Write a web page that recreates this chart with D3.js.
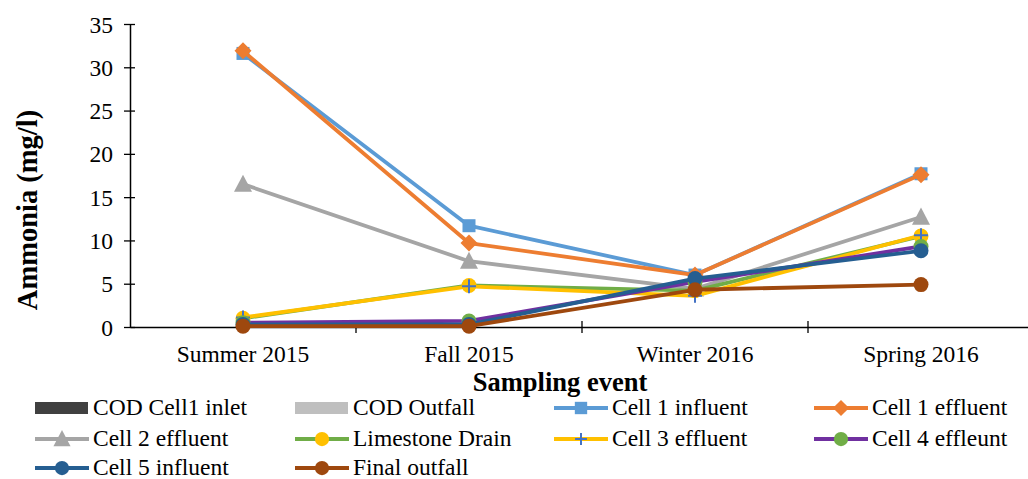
<!DOCTYPE html>
<html>
<head>
<meta charset="utf-8">
<script src="https://cdn.jsdelivr.net/npm/d3@7"></script>
<style>
  html, body { margin: 0; padding: 0; background: #fff; }
  svg { display: block; }
</style>
</head>
<body>
<svg id="chart" width="1028" height="479"></svg>
<script>
// Sampling events (x categories)
const events = ["Summer 2015", "Fall 2015", "Winter 2016", "Spring 2016"];
const yTicks = [0, 5, 10, 15, 20, 25, 30, 35];

// Ammonia (mg/l) per station
const codCell1Inlet = [];
const codOutfall = [];
const cell1Influent = [31.6, 11.7, 6.0, 17.7];
const cell1Effluent = [31.9, 9.7, 6.0, 17.6];
const cell2Effluent = [16.5, 7.6, 4.4, 12.7];
const limestoneDrain = [1.0, 4.8, 4.2, 10.5];
const cell3Effluent = [1.1, 4.7, 3.6, 10.6];
const cell4Effluent = [0.5, 0.7, 5.2, 9.3];
const cell5Influent = [0.3, 0.3, 5.6, 8.8];
const finalOutfall = [0.1, 0.1, 4.3, 4.9];

const series = [
  { name: "COD Cell1 inlet", kind: "bar", color: "#404040", values: codCell1Inlet },
  { name: "COD Outfall", kind: "bar", color: "#BFBFBF", values: codOutfall },
  { name: "Cell 1 influent", kind: "line", line: "#5B9BD5", marker: "square", fill: "#5B9BD5", values: cell1Influent },
  { name: "Cell 1 effluent", kind: "line", line: "#ED7D31", marker: "diamond", fill: "#ED7D31", values: cell1Effluent },
  { name: "Cell 2 effluent", kind: "line", line: "#A5A5A5", marker: "triangle", fill: "#A5A5A5", values: cell2Effluent },
  { name: "Limestone Drain", kind: "line", line: "#70AD47", marker: "circle", fill: "#FFC000", values: limestoneDrain },
  { name: "Cell 3 effluent", kind: "line", line: "#FFC000", marker: "plus", fill: "#4472C4", values: cell3Effluent },
  { name: "Cell 4 effleunt", kind: "line", line: "#7030A0", marker: "circle", fill: "#70AD47", values: cell4Effluent },
  { name: "Cell 5 influent", kind: "line", line: "#255E91", marker: "circle", fill: "#255E91", values: cell5Influent },
  { name: "Final outfall", kind: "line", line: "#9E480E", marker: "circle", fill: "#9E480E", values: finalOutfall }
];

const FONT = "'Liberation Serif', 'Times New Roman', serif";
const svg = d3.select("#chart");
const plot = { left: 130, right: 1034, top: 24, bottom: 327 };

const x = d3.scaleBand().domain(events).range([plot.left, plot.right]).paddingInner(0).paddingOuter(0);
const y = d3.scaleLinear().domain([0, 35]).range([plot.bottom, plot.top]);
const cx = d => x(d) + x.bandwidth() / 2;

// y axis with crossing tick marks
const yAxis = svg.append("g").attr("transform", `translate(${plot.left},0)`)
  .call(d3.axisLeft(y).tickValues(yTicks).tickSize(6).tickSizeOuter(0).tickPadding(8));
yAxis.select(".domain").attr("stroke", "#000").attr("stroke-width", 1.5);
yAxis.selectAll(".tick line").attr("stroke", "#000").attr("stroke-width", 1.3).attr("x2", 5).attr("x1", -6);
yAxis.selectAll(".tick text").style("font-family", FONT).style("font-size", "23.5px")
  .attr("fill", "#000").attr("x", -17).attr("dy", "0.34em");

// x axis with category boundary tick marks
const xAxis = svg.append("g").attr("transform", `translate(0,${plot.bottom})`)
  .call(d3.axisBottom(x).tickSize(0).tickPadding(0));
xAxis.select(".domain").attr("stroke", "#000").attr("stroke-width", 1.5);
xAxis.selectAll(".tick text").style("font-family", FONT).style("font-size", "23.5px")
  .attr("fill", "#000").attr("y", 35).attr("dy", 0);
const bounds = events.map(e => x(e)).slice(1).concat([plot.right]);
svg.append("g").selectAll("line").data(bounds).join("line")
  .attr("x1", d => d).attr("x2", d => d)
  .attr("y1", plot.bottom - 6).attr("y2", plot.bottom + 6)
  .attr("stroke", "#000").attr("stroke-width", 1.3);

// axis titles
svg.append("text")
  .attr("transform", `translate(37,210) rotate(-90)`)
  .attr("text-anchor", "middle").style("font-family", FONT).style("font-size", "28.5px").attr("font-weight", "bold")
  .text("Ammonia  (mg/l)");
svg.append("text")
  .attr("x", 560).attr("y", 391).attr("text-anchor", "middle")
  .style("font-family", FONT).style("font-size", "26.5px").attr("font-weight", "bold")
  .text("Sampling event");

// marker drawing
function drawMarker(g, type, fill, px, py, scale = 1) {
  if (type === "square") {
    const s = 13 * scale;
    g.append("rect").attr("x", px - s / 2).attr("y", py - s / 2).attr("width", s).attr("height", s).attr("fill", fill);
  } else if (type === "diamond") {
    const s = 8.5 * scale;
    g.append("path").attr("d", `M${px},${py - s}L${px + s},${py}L${px},${py + s}L${px - s},${py}Z`).attr("fill", fill);
  } else if (type === "triangle") {
    const s = 9 * scale;
    g.append("path").attr("d", `M${px},${py - s * 1.05}L${px + s},${py + s * 0.85}L${px - s},${py + s * 0.85}Z`).attr("fill", fill);
  } else if (type === "circle") {
    g.append("circle").attr("cx", px).attr("cy", py).attr("r", 7.5 * scale).attr("fill", fill);
  } else if (type === "plus") {
    const s = 7 * scale;
    g.append("path").attr("d", `M${px - s},${py}H${px + s}M${px},${py - s}V${py + s}`)
      .attr("stroke", fill).attr("stroke-width", 2).attr("fill", "none");
  }
}

const line = d3.line().x(d => cx(d.e)).y(d => y(d.v));
const marks = svg.append("g");
series.filter(s => s.kind === "line").forEach(s => {
  const pts = s.values.map((v, i) => ({ e: events[i], v }));
  const g = marks.append("g");
  g.append("path").datum(pts).attr("d", line)
    .attr("fill", "none").attr("stroke", s.line).attr("stroke-width", 3.8).attr("stroke-linejoin", "round");
  pts.forEach(p => drawMarker(g, s.marker, s.fill, cx(p.e), y(p.v)));
});

// legend
const legendCols = [35, 295, 554, 814];
const legendRows = [408, 439, 468];
const leg = svg.append("g");
series.forEach((s, i) => {
  const lx = legendCols[i % 4], ly = legendRows[Math.floor(i / 4)];
  const g = leg.append("g");
  if (s.kind === "bar") {
    g.append("rect").attr("x", lx).attr("y", ly - 6).attr("width", 53).attr("height", 12).attr("fill", s.color);
  } else {
    g.append("line").attr("x1", lx).attr("x2", lx + 54).attr("y1", ly).attr("y2", ly)
      .attr("stroke", s.line).attr("stroke-width", 3.8);
    drawMarker(g, s.marker, s.fill, lx + 27, ly, s.marker === "plus" ? 0.85 : 0.95);
  }
  g.append("text").attr("x", lx + 58).attr("y", ly + 7)
    .style("font-family", FONT).style("font-size", "23.5px").attr("fill", "#000").text(s.name);
});
</script>
</body>
</html>
